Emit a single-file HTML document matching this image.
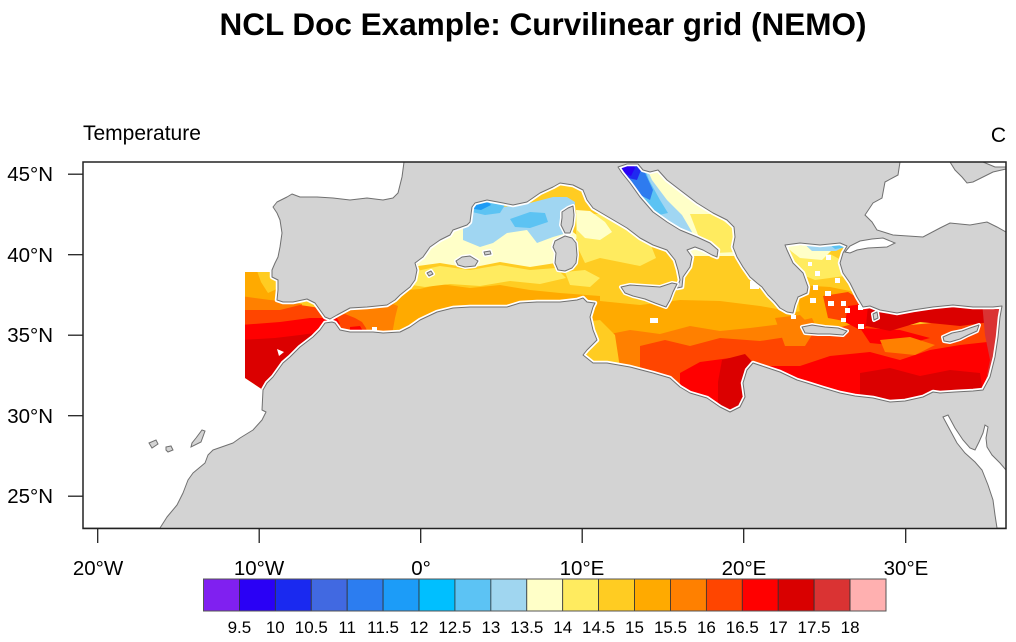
<!DOCTYPE html>
<html><head><meta charset="utf-8"><style>
html,body{margin:0;padding:0;background:#fff;}
svg{display:block;}
text{font-family:"Liberation Sans",Arial,sans-serif;fill:#000;}
</style></head><body>
<svg width="1016" height="642" viewBox="0 0 1016 642" xmlns="http://www.w3.org/2000/svg">
<defs>
<path id="W" d="M83,162 L404,162 402,177 398,193 393,198 383,200 367,198 350,200 333,198 317,197 300,197 292,194 287,197 277,202 273,207 277,213 280,220 282,233 280,247 278,257 275,263 272,270 272,277 278,280 278,290 277,300 283,302 293,302 307,299 315,303 320,310 325,317 330,319 337,315 350,308 367,307 387,305 395,300 400,295 410,287 415,280 417,270 415,263 423,257 430,247 440,240 450,235 453,230 467,225 470,222 472,207 475,203 487,200 503,203 513,205 527,202 540,193 553,187 560,183 573,185 583,190 587,200 593,208 610,218 627,228 640,238 653,245 667,250 675,260 678,270 680,280 677,288 682,287 683,277 690,267 692,257 687,250 695,247 703,250 712,255 717,257 718,250 710,243 697,237 680,230 667,222 653,212 640,197 630,183 622,173 618,167 627,164 638,164 643,170 650,172 658,170 667,180 680,190 697,203 713,213 727,220 734,227 735,237 733,247 737,257 743,267 750,277 757,283 762,287 768,295 775,302 780,308 787,312 793,313 795,305 798,297 807,293 808,287 803,273 793,263 787,250 785,245 800,243 820,245 840,243 847,246 843,253 840,263 843,273 850,283 857,297 863,307 870,306 880,310 897,313 913,310 933,307 953,305 973,307 993,307 1002,306 1000,317 998,337 995,357 990,377 983,390 973,391 955,392 940,393 933,392 923,397 905,401 890,402 873,398 855,396 840,393 823,388 807,383 797,380 780,372 765,367 753,363 747,370 743,383 745,397 740,407 730,412 720,407 707,398 690,393 680,387 670,378 653,373 630,367 607,363 593,363 583,355 587,350 597,340 593,330 590,317 593,307 595,303 587,302 583,298 577,300 560,302 537,302 520,303 507,307 487,307 470,307 453,308 437,312 420,320 410,327 400,332 383,333 373,332 350,332 340,330 335,323 332,322 325,323 320,330 313,337 300,347 290,357 283,363 278,370 273,377 267,383 263,390 262,410 266,412 262,420 253,430 240,438 233,443 213,450 208,455 205,463 193,473 188,480 183,493 177,505 167,517 160,528 L83,528 Z"/>
<clipPath id="C"><path d="M245,272 L272,272 272,277 278,280 278,290 277,300 283,302 293,302 307,299 315,303 320,310 325,317 330,319 337,315 350,308 367,307 387,305 395,300 400,295 410,287 415,280 417,270 415,263 423,257 430,247 440,240 450,235 453,230 467,225 470,222 472,207 475,203 487,200 503,203 513,205 527,202 540,193 553,187 560,183 573,185 583,190 587,200 593,208 610,218 627,228 640,238 653,245 667,250 675,260 678,270 680,280 677,288 682,287 683,277 690,267 692,257 687,250 695,247 703,250 712,255 717,257 718,250 710,243 697,237 680,230 667,222 653,212 640,197 630,183 622,173 618,167 627,164 638,164 643,170 650,172 658,170 667,180 680,190 697,203 713,213 727,220 734,227 735,237 733,247 737,257 743,267 750,277 757,283 762,287 768,295 775,302 780,308 787,312 793,313 795,305 798,297 807,293 808,287 803,273 793,263 787,250 785,245 800,243 820,245 840,243 847,246 843,253 840,263 843,273 850,283 857,297 863,307 870,306 880,310 897,313 913,310 933,307 953,305 973,307 993,307 1002,306 1000,317 998,337 995,357 990,377 983,390 973,391 955,392 940,393 933,392 923,397 905,401 890,402 873,398 855,396 840,393 823,388 807,383 797,380 780,372 765,367 753,363 747,370 743,383 745,397 740,407 730,412 720,407 707,398 690,393 680,387 670,378 653,373 630,367 607,363 593,363 583,355 587,350 597,340 593,330 590,317 593,307 595,303 587,302 583,298 577,300 560,302 537,302 520,303 507,307 487,307 470,307 453,308 437,312 420,320 410,327 400,332 383,333 373,332 350,332 340,330 335,323 332,322 325,323 320,330 313,337 300,347 290,357 283,363 278,370 273,377 267,383 263,390 L245,378 Z"/></clipPath>
<g id="isl">
<path d="M456,261 462,257 470,256 478,261 475,266 465,267 458,265Z"/>
<path d="M484,252 490,251 491,254 485,255Z"/>
<path d="M427,273 431,271 433,274 429,276Z"/>
<path d="M562,212 568,208 573,206 574,215 573,225 570,233 565,233 561,225 562,218Z"/>
<path d="M555,241 565,236 572,238 576,243 577,255 576,263 572,268 565,271 558,270 555,263 556,253 553,247Z"/>
<path d="M621,287 630,285 645,286 660,287 672,283 677,284 673,292 670,300 666,307 655,303 645,299 633,296 625,293Z"/>
<path d="M802,327 812,325 825,327 838,328 847,331 843,335 830,334 818,334 805,333Z"/>
<path d="M943,337 952,333 962,331 970,328 979,325 977,331 968,335 960,339 950,342 944,341Z"/>
<path d="M873,314 877,312 878,318 874,320Z"/>
</g>
</defs>

<text x="543" y="35" font-size="31.5" font-weight="bold" text-anchor="middle">NCL Doc Example: Curvilinear grid (NEMO)</text>
<text x="83" y="140" font-size="21">Temperature</text>
<text x="1006" y="142" font-size="21" text-anchor="end">C</text>

<rect x="83" y="162" width="923" height="366" fill="#D3D3D3"/>
<use href="#W" fill="#fff" stroke="none"/>
<path d="M900,162 L950,162 955,170 962,177 967,183 973,182 983,177 993,172 1006,169 L1006,232 997,227 987,222 970,225 950,223 940,228 923,237 893,235 877,230 872,222 865,215 873,203 882,198 885,182 898,175 Z" fill="#fff" stroke="#707070" stroke-width="1"/>
<path d="M983,162 L1006,162 1006,167 995,167 Z" fill="#fff" stroke="#707070" stroke-width="1"/>
<path d="M845,252 L850,246 860,241 872,239 883,238 895,243 887,247 868,248 857,250 850,253 Z" fill="#fff" stroke="#707070" stroke-width="1"/>
<path d="M943,417 L948,415 955,428 963,440 970,448 975,450 979,442 983,433 985,425 988,427 986,438 987,447 992,455 1000,463 1006,470 L1006,528 L997,528 995,515 993,500 988,485 982,470 975,462 965,453 957,443 950,430 Z" fill="#fff" stroke="#707070" stroke-width="1"/>

<g clip-path="url(#C)">
<rect x="240" y="160" width="770" height="260" fill="#FFCC22"/>
<path d="M330,300 360,300 395,291 420,289 440,284 470,288 500,285 530,290 560,293 600,296 600,345 330,345Z" fill="#FFAA00"/>
<path d="M333,312 350,306 370,305 390,303 398,306 395,318 392,335 333,335Z" fill="#FF8000"/>
<path d="M335,316 345,314 355,318 362,322 366,328 368,335 335,335Z" fill="#FF4500"/>
<path d="M326,314 336,316 340,324 333,327Z" fill="#FF0000"/>
<path d="M350,327 360,326 364,333 350,333Z" fill="#FF0000"/>
<path d="M412,272 440,266 470,270 500,265 530,270 556,268 566,278 540,284 510,281 480,286 450,284 425,287 412,285Z" fill="#FFEB5F"/>
<path d="M418,242 450,232 470,222 560,222 578,236 562,262 530,267 500,262 470,268 440,263 418,266Z" fill="#FFFFC8"/>
<path d="M463,200 473,200 503,207 530,203 553,197 567,197 575,202 573,232 567,233 553,237 537,243 527,230 507,233 493,243 480,247 463,240Z" fill="#A0D6F2"/>
<path d="M470,203 490,200 505,205 500,213 485,215 472,212Z" fill="#5CC3F3"/>
<path d="M510,219 530,212 545,213 548,222 530,228 515,227Z" fill="#5CC3F3"/>
<path d="M472,200 486,199 491,205 481,210 474,209Z" fill="#1E9BF5"/>
<path d="M575,214 600,214 625,228 650,243 656,258 640,266 620,262 600,258 585,263 577,246Z" fill="#FFEB5F"/>
<path d="M576,210 590,211 605,222 612,232 600,240 585,238 577,230Z" fill="#FFFFC8"/>
<path d="M565,272 585,270 600,278 590,287 570,285Z" fill="#FFEB5F"/>
<path d="M615,158 742,158 742,256 680,256Z" fill="#FFFFC8"/>
<path d="M690,214 715,214 735,230 737,252 715,253 700,240Z" fill="#FFEB5F"/>
<path d="M612,158 642,158 652,180 667,200 682,215 692,232 690,242 678,240 664,228 648,214 634,198 624,183Z" fill="#A0D6F2"/>
<path d="M612,158 641,158 649,180 660,200 668,213 659,215 645,203 632,188 621,175Z" fill="#5CC3F3"/>
<path d="M612,158 639,158 646,175 653,190 650,200 640,195 628,181 619,172Z" fill="#2E7BEF"/>
<path d="M612,158 637,158 641,170 637,180 628,178 619,170Z" fill="#1F2AF0"/>
<path d="M614,160 631,160 635,168 631,176 623,173Z" fill="#2A00F5"/>
<!-- Aegean -->
<path d="M782,250 830,254 845,262 845,276 815,280 795,272Z" fill="#FFEB5F"/>
<path d="M782,244 812,246 832,250 822,260 800,258Z" fill="#FFFFC8"/>
<path d="M800,240 840,239 846,246 836,251 812,251Z" fill="#A0D6F2"/>
<path d="M822,238 846,238 848,247 835,249Z" fill="#5CC3F3"/>
<!-- Ionian / central south -->
<path d="M600,301 640,305 680,300 720,301 760,306 795,312 880,300 880,355 600,355Z" fill="#FFAA00"/>
<path d="M798,285 830,287 855,292 862,310 800,318Z" fill="#FFAA00"/>
<path d="M600,336 630,330 660,334 690,326 720,331 750,328 790,323 812,318 822,340 780,372 600,372Z" fill="#FF8000"/>
<path d="M640,346 665,340 690,346 720,338 760,341 800,335 830,330 860,322 900,326 1006,316 1006,405 640,405Z" fill="#FF4500"/>
<path d="M823,296 848,292 870,305 860,324 828,318Z" fill="#FF4500"/>
<path d="M680,373 700,362 730,358 760,366 800,366 830,356 870,352 900,360 930,350 960,345 1006,340 1006,410 680,415Z" fill="#FF0000"/>
<path d="M860,328 900,330 930,338 900,346 870,343Z" fill="#FF0000"/>
<path d="M848,306 870,303 880,318 860,330 845,322Z" fill="#FF0000"/>
<path d="M775,318 800,315 815,330 805,346 785,346Z" fill="#FF8000"/>
<path d="M880,340 910,337 935,345 915,355 885,352Z" fill="#FF8000"/>
<path d="M722,360 745,354 760,370 750,415 718,415 718,382Z" fill="#DB0000"/>
<path d="M860,373 890,368 920,376 950,370 980,373 985,405 860,405Z" fill="#DB0000"/>
<path d="M868,305 900,308 1006,302 1006,320 960,326 920,322 890,331 866,326Z" fill="#DB0000"/>
<path d="M982,302 1008,302 1008,390 984,390 990,360 985,335Z" fill="#DA3333"/>
<path d="M582,322 600,320 615,335 620,368 592,368Z" fill="#FFCC22"/>
<!-- Atlantic box -->
<path d="M240,268 276,268 284,306 240,302Z" fill="#FFAA00"/>
<path d="M256,268 274,268 279,288 268,293 261,282Z" fill="#FFCC22"/>
<path d="M240,296 270,300 290,302 302,304 302,316 240,316Z" fill="#FF8000"/>
<path d="M240,310 280,310 300,305 320,308 330,318 300,326 270,326 240,329Z" fill="#FF4500"/>
<path d="M240,325 280,322 310,318 332,318 322,335 295,340 265,340 240,346Z" fill="#FF0000"/>
<path d="M240,340 275,338 300,335 322,332 332,340 300,395 240,395Z" fill="#DB0000"/>
<path d="M333,318 327,326 319,334 306,344 293,356 283,366 272,380 262,392 268,394 276,384 286,372 296,362 308,352 320,341 330,330 336,322Z" fill="#DA3333"/>
<path d="M305,341 315,334 321,330 318,339 308,347 300,351Z" fill="#FFB0B0"/>
<path d="M277,349 284,352 279,356Z" fill="#fff"/>
<g fill="#fff">
<rect x="826" y="255" width="5" height="5"/><rect x="815" y="271" width="5" height="5"/>
<rect x="835" y="278" width="5" height="5"/><rect x="845" y="261" width="5" height="5"/>
<rect x="813" y="285" width="5" height="5"/><rect x="825" y="291" width="6" height="5"/>
<rect x="810" y="298" width="6" height="5"/><rect x="828" y="301" width="6" height="5"/>
<rect x="841" y="301" width="5" height="5"/><rect x="845" y="308" width="5" height="5"/>
<rect x="856" y="295" width="5" height="5"/><rect x="858" y="305" width="5" height="5"/>
<rect x="791" y="315" width="5" height="4"/><rect x="858" y="324" width="6" height="5"/>
<rect x="841" y="318" width="5" height="4"/><rect x="808" y="262" width="4" height="4"/>
<rect x="750" y="281" width="9" height="8"/><rect x="650" y="318" width="8" height="5"/>
<rect x="372" y="327" width="5" height="4"/>
</g>
<use href="#W" fill="none" stroke="#fff" stroke-width="4.5" stroke-linejoin="round"/>
</g>
<use href="#W" fill="none" stroke="#707070" stroke-width="1" stroke-linejoin="round"/>
<use href="#isl" fill="#D3D3D3" stroke="#fff" stroke-width="4" stroke-linejoin="round"/>
<use href="#isl" fill="#D3D3D3" stroke="#707070" stroke-width="1" stroke-linejoin="round"/>
<g fill="#D3D3D3" stroke="#707070" stroke-width="1">
<path d="M149,443 156,440 158,444 152,448Z"/>
<path d="M166,447 171,446 173,450 168,452 166,450Z"/>
<path d="M196,438 202,430 205,431 201,442 191,447 192,443Z"/>
</g>

<rect x="83" y="162" width="923" height="366.5" fill="none" stroke="#222" stroke-width="1.5"/>
<g stroke="#222" stroke-width="1.3">
<line x1="68" y1="174.2" x2="83" y2="174.2"/>
<line x1="68" y1="254.7" x2="83" y2="254.7"/>
<line x1="68" y1="335.2" x2="83" y2="335.2"/>
<line x1="68" y1="415.7" x2="83" y2="415.7"/>
<line x1="68" y1="496.2" x2="83" y2="496.2"/>
<line x1="97.7" y1="528" x2="97.7" y2="543"/>
<line x1="259.2" y1="528" x2="259.2" y2="543"/>
<line x1="420.7" y1="528" x2="420.7" y2="543"/>
<line x1="582.2" y1="528" x2="582.2" y2="543"/>
<line x1="743.7" y1="528" x2="743.7" y2="543"/>
<line x1="905.7" y1="528" x2="905.7" y2="543"/>
</g>
<g font-size="20.5" text-anchor="end">
<text x="53" y="181">45°N</text>
<text x="53" y="262">40°N</text>
<text x="53" y="342">35°N</text>
<text x="53" y="423">30°N</text>
<text x="53" y="503">25°N</text>
</g>
<g font-size="20.5" text-anchor="middle">
<text x="98" y="575">20°W</text>
<text x="259" y="575">10°W</text>
<text x="421" y="575">0°</text>
<text x="582" y="575">10°E</text>
<text x="744" y="575">20°E</text>
<text x="906" y="575">30°E</text>
</g>

<g stroke="#333" stroke-width="0.8">
<rect x="203.5" y="579" width="35.92" height="32" fill="#8020F0"/>
<rect x="239.42" y="579" width="35.92" height="32" fill="#2A00F5"/>
<rect x="275.34" y="579" width="35.92" height="32" fill="#1A29F0"/>
<rect x="311.26" y="579" width="35.92" height="32" fill="#4169E1"/>
<rect x="347.18" y="579" width="35.92" height="32" fill="#2C7DF0"/>
<rect x="383.1" y="579" width="35.92" height="32" fill="#1C9CF8"/>
<rect x="419.02" y="579" width="35.92" height="32" fill="#00BFFF"/>
<rect x="454.94" y="579" width="35.92" height="32" fill="#5CC3F4"/>
<rect x="490.86" y="579" width="35.92" height="32" fill="#A0D6F0"/>
<rect x="526.78" y="579" width="35.92" height="32" fill="#FFFFC8"/>
<rect x="562.7" y="579" width="35.92" height="32" fill="#FFEB5F"/>
<rect x="598.62" y="579" width="35.92" height="32" fill="#FFCC22"/>
<rect x="634.54" y="579" width="35.92" height="32" fill="#FFAA00"/>
<rect x="670.46" y="579" width="35.92" height="32" fill="#FF8000"/>
<rect x="706.38" y="579" width="35.92" height="32" fill="#FF4500"/>
<rect x="742.3" y="579" width="35.92" height="32" fill="#FF0000"/>
<rect x="778.22" y="579" width="35.92" height="32" fill="#D90000"/>
<rect x="814.14" y="579" width="35.92" height="32" fill="#DA3333"/>
<rect x="850.06" y="579" width="35.92" height="32" fill="#FFB0B0"/>
</g>
<rect x="203.5" y="579" width="682.5" height="32" fill="none" stroke="#555" stroke-width="1"/>
<g font-size="17" text-anchor="middle">
<text x="239.4" y="633">9.5</text>
<text x="275.3" y="633">10</text>
<text x="311.3" y="633">10.5</text>
<text x="347.2" y="633">11</text>
<text x="383.1" y="633">11.5</text>
<text x="419.0" y="633">12</text>
<text x="454.9" y="633">12.5</text>
<text x="490.9" y="633">13</text>
<text x="526.8" y="633">13.5</text>
<text x="562.7" y="633">14</text>
<text x="598.6" y="633">14.5</text>
<text x="634.5" y="633">15</text>
<text x="670.5" y="633">15.5</text>
<text x="706.4" y="633">16</text>
<text x="742.3" y="633">16.5</text>
<text x="778.2" y="633">17</text>
<text x="814.1" y="633">17.5</text>
<text x="850.1" y="633">18</text>
</g>
</svg>
</body></html>
